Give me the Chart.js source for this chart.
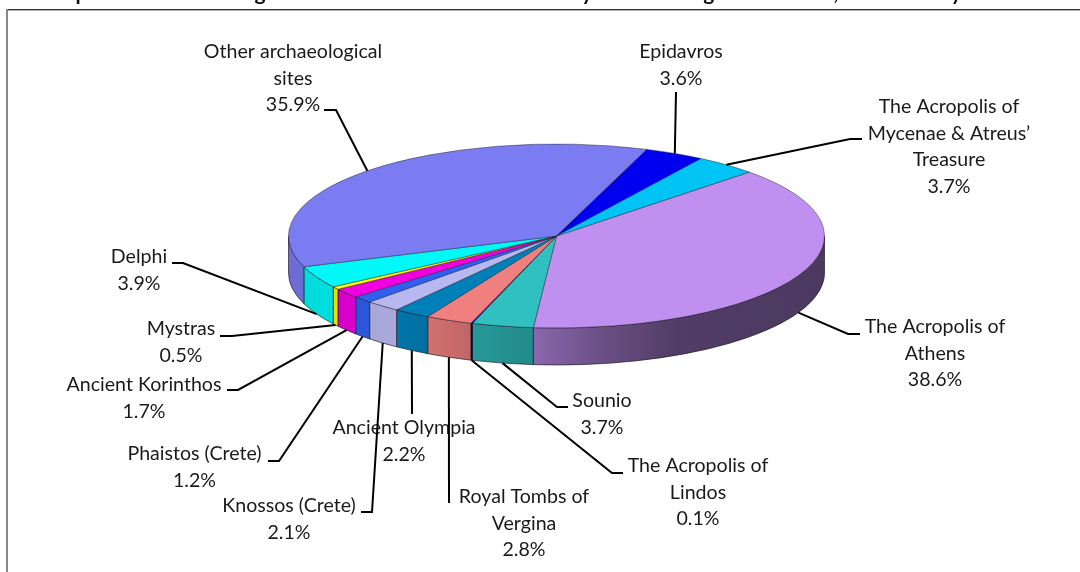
<!DOCTYPE html>
<html><head><meta charset="utf-8">
<style>html,body{margin:0;padding:0;background:#fff}canvas{display:block}</style>
<script src="https://cdn.jsdelivr.net/npm/chart.js@4/dist/chart.umd.min.js"></script>
</head><body><canvas id="c" width="1080" height="572"></canvas>
<script>
const sites = ["The Acropolis of Athens","Sounio","The Acropolis of Lindos","Royal Tombs of Vergina","Ancient Olympia","Knossos (Crete)","Phaistos (Crete)","Ancient Korinthos","Mystras","Delphi","Other archaeological sites","Epidavros","The Acropolis of Mycenae & Atreus’ Treasure"];
const shares = [38.6,3.7,0.1,2.8,2.2,2.1,1.2,1.7,0.5,3.9,35.9,3.6,3.7];
const sliceColors = ["#c090f0","#30c0c0","#000080","#f08080","#0080b8","#b8b8f0","#3060f0","#f000e0","#ffff00","#00f8f8","#7b7bf2","#0000f0","#00c4f4"];
const labelLines = [["The Acropolis of","Athens"],["Sounio"],["The Acropolis of","Lindos"],["Royal Tombs of","Vergina"],["Ancient Olympia"],["Knossos (Crete)"],["Phaistos (Crete)"],["Ancient Korinthos"],["Mystras"],["Delphi"],["Other archaeological","sites"],["Epidavros"],["The Acropolis of","Mycenae & Atreus’","Treasure"]];
const labelCenters = [[935,327],[602,401],[698,466],[524,497],[404,428],[289,506],[194.5,454],[144,385],[181,329],[139,257],[293,52],[681,52],[949,107]];
const leaderElbows = [[[848,334],[860,334]],[[557,407],[568,407]],[[612,473],[623,473]],[[449,503]],[[412,414]],[[372,512],[361,512]],[[279,461],[268,461]],[[238,390],[227,390]],[[232,336],[220,336]],[[183,263],[172,263]],[[336,110],[324,110]],[[676,92]],[[850,139],[862,139]]];
const titleParts = [["Graph 1.",42],["Percentage",172],["distribution of visitors",332],["by",570],["archaeological",612],["site,",800],["July",925]];
const lineGap = 26.4, pieCy = 236, flatten = 92/268, depth = 37, startDeg = 46;
const shadeStops = [[0,.88],[.2,.92],[.26,.88],[.34,.8],[.46,.72],[.58,.56],[.73,.42],[1,.4]];

function shade(hex,f){const n=parseInt(hex.slice(1),16);return `rgb(${((n>>16)&255)*f|0},${((n>>8)&255)*f|0},${(n&255)*f|0})`;}

const pie3d = {
  id:'pie3d',
  beforeDatasetsDraw(chart){
    const ctx=chart.ctx, arcs=chart.getDatasetMeta(0).data, T=Math.PI*2;
    const paint=a=>{
      const i=arcs.indexOf(a), r=a.outerRadius, ry=r*flatten;
      let s=a.startAngle,e=a.endAngle;
      const segs=[[s,e],[s-T,e-T]];
      segs.forEach(([p,q])=>{
        const u=Math.max(p,0),v=Math.min(q,Math.PI);
        if(v<=u)return;
        const g=ctx.createLinearGradient(a.x-r,0,a.x+r,0);
        shadeStops.forEach(([t,f])=>g.addColorStop(t,shade(sliceColors[i],f)));
        ctx.beginPath();
        ctx.ellipse(a.x,pieCy,r,ry,0,u,v);
        ctx.ellipse(a.x,pieCy+depth,r,ry,0,v,u,true);
        ctx.closePath();
        ctx.fillStyle=g;ctx.fill();
        ctx.strokeStyle='rgba(20,20,30,.8)';ctx.lineWidth=.8;ctx.stroke();
      });
    };
    arcs.forEach(paint);
    const a=arcs[0];
    ctx.save();
    ctx.translate(0,pieCy);ctx.scale(1,flatten);ctx.translate(0,-a.y);
  },
  afterDatasetsDraw(chart){
    const ctx=chart.ctx; ctx.restore();
    const arcs=chart.getDatasetMeta(0).data;
    // frame
    ctx.fillStyle='#333';ctx.fillRect(6,9,1074,1);
    ctx.fillStyle='#aaa';ctx.fillRect(6,10,1074,1);
    ctx.fillStyle='#888';ctx.fillRect(6,9,2,563);
    // clipped title
    ctx.fillStyle='#111';ctx.font='bold 21px Lato';ctx.textAlign='left';ctx.textBaseline='alphabetic';
    titleParts.forEach(([t,x])=>ctx.fillText(t,x,0));
    // labels
    ctx.font='19.6px Lato';ctx.fillStyle='#1a1a1a';ctx.textAlign='center';ctx.textBaseline='middle';
    labelLines.forEach((ls,i)=>{
      const lines=[...ls,shares[i].toFixed(1)+'%'],[x,y]=labelCenters[i];
      lines.forEach((t,k)=>ctx.fillText(t,x,y+k*lineGap));
    });
    // leaders
    ctx.strokeStyle='#000';ctx.lineWidth=2;
    arcs.forEach((a,i)=>{
      const m=(a.startAngle+a.endAngle)/2;
      const px=a.x+a.outerRadius*Math.cos(m);
      const sn=Math.sin(m);
      const py=pieCy+a.outerRadius*flatten*sn+(sn>0?depth:0);
      ctx.beginPath();ctx.moveTo(px,py);
      leaderElbows[i].forEach(([x,y])=>ctx.lineTo(x,y));
      ctx.stroke();
    });
  }
};

new Chart(document.getElementById('c'),{
  type:'pie',
  data:{labels:sites,datasets:[{data:shares,backgroundColor:sliceColors,borderColor:'rgba(20,20,30,.8)',borderWidth:.8}]},
  options:{responsive:false,animation:false,rotation:startDeg,
    layout:{padding:{left:33,right:0,top:17.6,bottom:17.6}},
    plugins:{legend:{display:false},tooltip:{enabled:false},title:{display:false}}},
  plugins:[pie3d]
});
</script></body></html>
